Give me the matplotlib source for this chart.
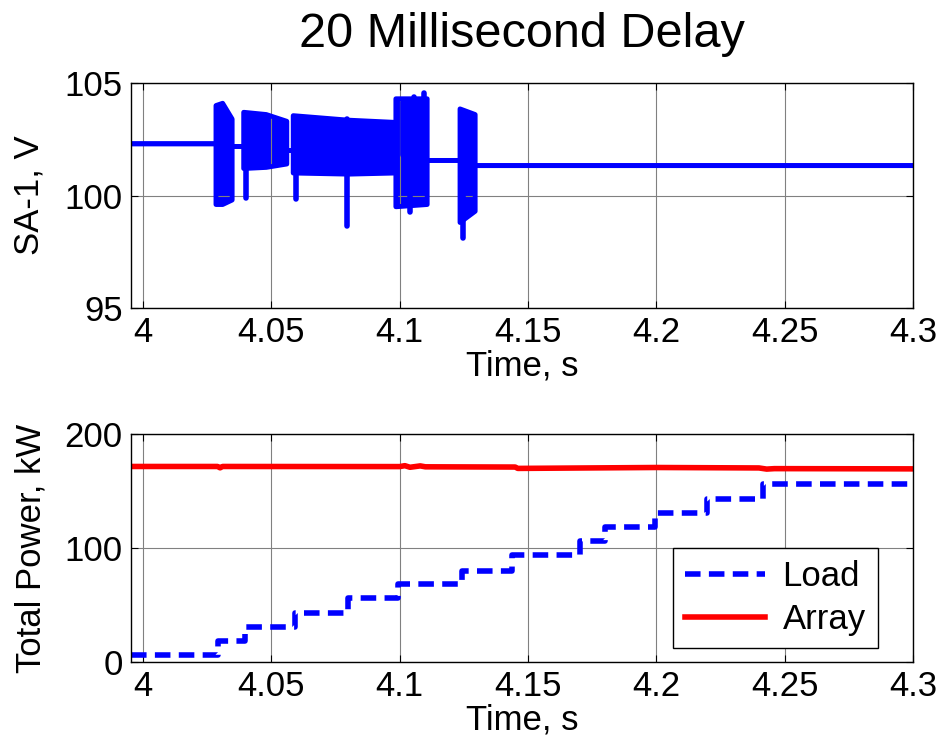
import numpy as np
import matplotlib
matplotlib.use("Agg")
import matplotlib.pyplot as plt

plt.rcParams['font.family'] = ['Liberation Sans', 'DejaVu Sans']

# SA-1 voltage envelope (upper / lower)
v_t = [3.9953, 4.0284, 4.0284, 4.0310, 4.0347, 4.0347, 4.0392, 4.0392, 4.0480, 4.0560,
       4.0560, 4.0585, 4.0585, 4.0800, 4.0985, 4.0985, 4.1107, 4.1107, 4.1235, 4.1235,
       4.1294, 4.1294, 4.3]
v_hi = [102.3, 102.3, 104.0, 104.1, 103.4, 102.18, 102.18, 103.7, 103.6, 103.3,
        102.0, 102.0, 103.55, 103.35, 103.25, 104.3, 104.3, 101.56, 101.56, 103.85,
        103.6, 101.33, 101.33]
v_lo = [102.3, 102.3, 99.6, 99.6, 99.8, 102.18, 102.18, 101.2, 101.25, 101.4,
        102.0, 102.0, 101.0, 100.95, 101.0, 99.5, 99.6, 101.56, 101.56, 98.8,
        99.3, 101.33, 101.33]

# isolated spikes in the voltage trace
spike_t = [4.0401, 4.0595, 4.0794, 4.0794, 4.1012, 4.1055, 4.1095, 4.1246, 4.1040]
spike_v = [99.9, 99.85, 98.65, 103.4, 104.15, 104.4, 104.55, 98.1, 99.25]

# stepped load and array power, kW
load_t = [3.9953, 4.0292, 4.0398, 4.0592, 4.0800, 4.0995, 4.1242, 4.1437,
          4.1703, 4.1800, 4.1995, 4.2197, 4.2417, 4.3]
load_p = [6, 18.4, 31, 43.2, 55.8, 68, 80, 93.7, 106.3, 118.6, 130.9, 143.2, 155.7, 155.7]

array_t = [3.9953, 4.029, 4.030, 4.031, 4.10, 4.102, 4.104, 4.108, 4.11, 4.145, 4.146,
           4.20, 4.24, 4.243, 4.246, 4.3]
array_p = [171.5, 171.5, 170.3, 171.5, 171.4, 172.2, 170.8, 172.0, 171.2, 171.0, 169.8,
           170.6, 170.2, 169.2, 169.6, 169.4]

blue = '#0000ff'
red = '#ff0000'
fs = 25

fig = plt.figure(figsize=(9.38, 7.44), dpi=100)
ax1 = fig.add_axes([0.1397, 0.586, 0.8336, 0.3024])
ax2 = fig.add_axes([0.1397, 0.1102, 0.8336, 0.3065])

# top panel
ax1.fill_between(v_t, v_lo, v_hi, color=blue, lw=0)
ax1.plot(v_t, v_hi, color=blue, lw=3.5, solid_joinstyle='round', solid_capstyle='round')
ax1.plot(v_t, v_lo, color=blue, lw=3.5, solid_joinstyle='round', solid_capstyle='round')
for t, v in zip(spike_t, spike_v):
    ax1.plot([t, t], [101.8, v], color=blue, lw=4, solid_capstyle='round')
ax1.set_ylim(95, 105)
ax1.set_yticks([95, 100, 105])
ax1.set_ylabel('SA-1, V', fontsize=fs, labelpad=14)
ax1.set_title('20 Millisecond Delay', fontsize=35, pad=26)

# bottom panel
ax2.step(load_t, load_p, where='post', color=blue, lw=4, ls=(0, (2.8, 1.5)), label='Load')
ax2.plot(array_t, array_p, color=red, lw=4, label='Array')
ax2.set_ylim(0, 200)
ax2.set_yticks([0, 100, 200])
ax2.set_ylabel('Total Power, kW', fontsize=fs, labelpad=12)
leg = ax2.legend(loc='lower right', fontsize=fs, fancybox=False, framealpha=1,
                 edgecolor='black', handlelength=2.3, borderaxespad=0,
                 handletextpad=0.5, labelspacing=0.3, borderpad=0.35,
                 bbox_to_anchor=(0.955, 0.06))
leg.get_frame().set_linewidth(1.0)

for ax in (ax1, ax2):
    ax.set_xlim(3.9953, 4.3)
    ax.set_xticks([4, 4.05, 4.1, 4.15, 4.2, 4.25, 4.3])
    ax.set_xticklabels(['4', '4.05', '4.1', '4.15', '4.2', '4.25', '4.3'])
    ax.set_xlabel('Time, s', fontsize=fs, labelpad=0)
    ax.grid(True, color='#808080', lw=0.8)
    ax.tick_params(direction='in', top=True, right=True, labelsize=fs, length=5, pad=6)
    for s in ax.spines.values():
        s.set_linewidth(1.0)

fig.savefig('out.png', dpi=100)
